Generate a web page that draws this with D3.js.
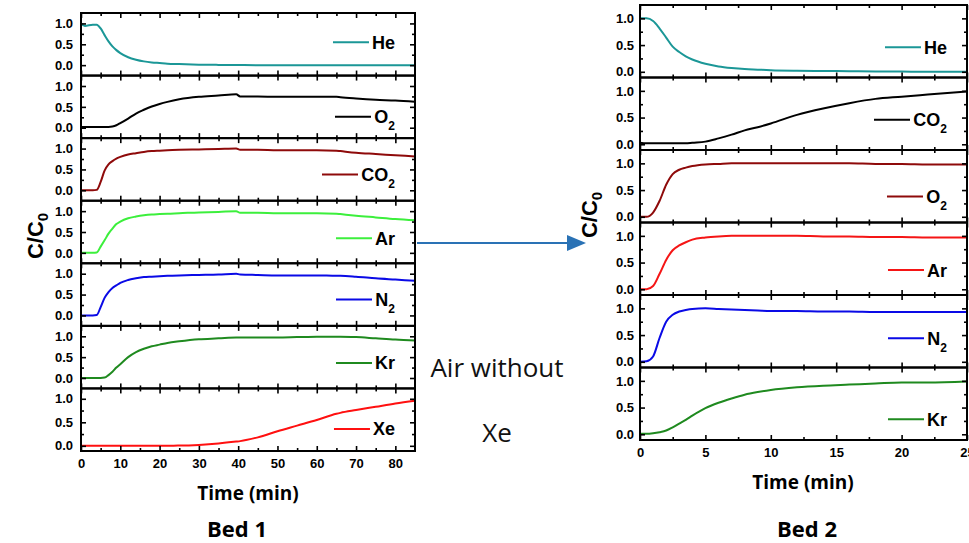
<!DOCTYPE html>
<html>
<head>
<meta charset="utf-8">
<script src="https://cdn.jsdelivr.net/npm/d3@7"></script>
<style>
  body { margin: 0; background: #fff; }
  svg { display: block; }
</style>
</head>
<body>
<script>
// ---- Bed 1 breakthrough curves (C/C0 vs time in min) ----
const bed1Time = [0,1,3,4,5,6,7,8,9,10,12,14,16,18,20,22,25,30,35,39.5,40.5,45,50,55,60,65,66,70,75,80,85];
const bed1Gases = ["He","O2","CO2","Ar","N2","Kr","Xe"];
const bed1He  = [1.0,0.94,0.97,0.97,0.88,0.72,0.57,0.45,0.36,0.29,0.19,0.13,0.09,0.065,0.05,0.035,0.025,0.012,0.006,0.003,0.002,0,0,0,0,0,0,0,0,0,0];
const bed1O2  = [0.02,0.02,0.02,0.02,0.02,0.02,0.02,0.03,0.06,0.11,0.22,0.34,0.43,0.51,0.57,0.62,0.68,0.74,0.77,0.80,0.75,0.75,0.74,0.74,0.74,0.74,0.73,0.70,0.67,0.65,0.62];
const bed1CO2 = [0,0,0,0.01,0.2,0.47,0.62,0.7,0.76,0.8,0.86,0.89,0.92,0.94,0.95,0.96,0.97,0.98,0.99,1.0,0.97,0.97,0.96,0.96,0.96,0.95,0.94,0.9,0.87,0.84,0.81];
const bed1Ar  = [0,0,0,0.01,0.15,0.3,0.46,0.58,0.69,0.75,0.83,0.87,0.9,0.92,0.93,0.94,0.95,0.97,0.98,1.0,0.96,0.96,0.95,0.95,0.95,0.94,0.93,0.89,0.85,0.81,0.78];
const bed1N2  = [0,0,0,0.01,0.2,0.42,0.56,0.66,0.72,0.78,0.85,0.89,0.92,0.93,0.94,0.95,0.96,0.97,0.98,1.0,0.98,0.97,0.96,0.96,0.96,0.95,0.95,0.93,0.89,0.86,0.83];
const bed1Kr  = [0,0,0,0,0,0.01,0.07,0.15,0.25,0.33,0.5,0.62,0.7,0.76,0.8,0.84,0.88,0.93,0.95,0.97,0.97,0.97,0.97,0.98,0.99,0.99,0.99,0.98,0.95,0.92,0.9];
const bed1Xe  = [0,0,0,0,0,0,0,0,0,0,0,0,0,0,0,0.003,0.005,0.02,0.05,0.09,0.1,0.18,0.31,0.43,0.55,0.68,0.7,0.76,0.83,0.9,0.96];
const bed1XTicks = [0,10,20,30,40,50,60,70,80];

// ---- Bed 2 breakthrough curves ----
const bed2Time = [0,0.5,1,1.5,2,2.5,3,3.5,4,5,6,7,8,9,10,12,14,16,18,20,22,25];
const bed2Gases = ["He","CO2","O2","Ar","N2","Kr"];
const bed2He  = [1.0,1.0,0.95,0.81,0.64,0.47,0.37,0.29,0.23,0.15,0.1,0.07,0.05,0.04,0.03,0.02,0.015,0.01,0.005,0.003,0,0];
const bed2CO2 = [0.03,0.02,0.02,0.02,0.02,0.02,0.02,0.02,0.03,0.05,0.11,0.18,0.26,0.32,0.39,0.55,0.67,0.77,0.85,0.89,0.93,0.99];
const bed2O2  = [0,0,0.08,0.3,0.6,0.8,0.88,0.92,0.95,0.98,0.99,1.0,1.0,1.0,1.0,1.0,1.0,1.0,0.99,0.99,0.98,0.98];
const bed2Ar  = [0,0,0.06,0.29,0.55,0.73,0.82,0.88,0.93,0.97,0.99,1.0,1.0,1.0,1.0,1.0,0.99,0.99,0.98,0.98,0.97,0.97];
const bed2N2  = [0,0.01,0.1,0.45,0.75,0.88,0.94,0.97,0.99,1.0,0.99,0.98,0.97,0.96,0.95,0.95,0.94,0.94,0.93,0.93,0.93,0.93];
const bed2Kr  = [0.01,0.01,0.02,0.04,0.07,0.13,0.2,0.27,0.35,0.49,0.59,0.67,0.74,0.79,0.83,0.88,0.91,0.93,0.95,0.97,0.97,0.99];
const bed2XTicks = [0,5,10,15,20,25];

const yTicks = [0, 0.5, 1.0];

const W = 969, H = 543;
const svg = d3.select("body").append("svg").attr("width", W).attr("height", H);
const sansBold = "'Liberation Sans', Arial, sans-serif";
const uiFont = "'Open Sans', 'Noto Sans', sans-serif";

// Writes a gas formula, turning digits into subscripts
function formula(textSel, name, size, subSize, subShift) {
  const parts = name.match(/[A-Za-z]+|\d+/g);
  parts.forEach((p, k) => {
    const isSub = /^\d+$/.test(p);
    const t = textSel.append("tspan").text(p);
    if (isSub) t.attr("font-size", subSize).attr("dy", subShift);
    else if (k > 0 && /^\d+$/.test(parts[k - 1])) t.attr("dy", -subShift).attr("font-size", size);
  });
}

function drawBed(cfg) {
  const n = cfg.gases.length;
  const ph = (cfg.bottom - cfg.top) / n;
  const x = d3.scaleLinear().domain(cfg.xDomain).range([cfg.left, cfg.right]);
  const line = d3.line().curve(d3.curveMonotoneX);

  cfg.gases.forEach((gas, i) => {
    const pTop = cfg.top + i * ph, pBot = pTop + ph;
    const y = d3.scaleLinear().domain(cfg.yDomains[i]).range([pBot, pTop]);
    const g = svg.append("g");
    const last = i === n - 1;

    // curve
    const pts = cfg.values[i].map((v, j) => [x(cfg.time[j]), y(v)]);
    g.append("path").attr("d", line(pts))
      .attr("fill", "none").attr("stroke", cfg.colors[i])
      .attr("stroke-width", 2).attr("stroke-linejoin", "round");

    const styleAxis = a => {
      a.select(".domain").remove();
      a.selectAll("line").attr("stroke", "#000").attr("stroke-width", 1.6);
      a.selectAll("text").attr("font-family", sansBold).attr("font-weight", "bold")
        .attr("font-size", 13).attr("fill", "#000");
    };

    // x ticks, inward on bottom and top
    g.append("g").attr("transform", `translate(0,${pBot})`)
      .call(d3.axisBottom(x).tickValues(cfg.xTicks).tickSize(-5).tickPadding(8)
        .tickFormat(last ? d3.format("d") : () => ""))
      .call(styleAxis);
    g.append("g").attr("transform", `translate(0,${pBot})`)
      .call(d3.axisBottom(x).tickValues(cfg.xMinor).tickSize(-3).tickFormat(() => ""))
      .call(styleAxis);
    g.append("g").attr("transform", `translate(0,${pTop})`)
      .call(d3.axisTop(x).tickValues(cfg.xTicks).tickSize(-5).tickFormat(() => ""))
      .call(styleAxis);
    g.append("g").attr("transform", `translate(0,${pTop})`)
      .call(d3.axisTop(x).tickValues(cfg.xMinor).tickSize(-3).tickFormat(() => ""))
      .call(styleAxis);

    // y ticks, inward on left and right
    g.append("g").attr("transform", `translate(${cfg.left},0)`)
      .call(d3.axisLeft(y).tickValues(yTicks).tickSize(-5).tickPadding(cfg.yPad).tickFormat(d3.format(".1f")))
      .call(styleAxis);
    g.append("g").attr("transform", `translate(${cfg.left},0)`)
      .call(d3.axisLeft(y).tickValues([0.25, 0.75]).tickSize(-3).tickFormat(() => ""))
      .call(styleAxis);
    g.append("g").attr("transform", `translate(${cfg.right},0)`)
      .call(d3.axisRight(y).tickValues(yTicks).tickSize(-5).tickFormat(() => ""))
      .call(styleAxis);
    g.append("g").attr("transform", `translate(${cfg.right},0)`)
      .call(d3.axisRight(y).tickValues([0.25, 0.75]).tickSize(-3).tickFormat(() => ""))
      .call(styleAxis);

    // panel frame
    g.append("rect").attr("x", cfg.left).attr("y", pTop)
      .attr("width", cfg.right - cfg.left).attr("height", ph)
      .attr("fill", "none").attr("stroke", "#000").attr("stroke-width", 2);

    // legend entry
    const ly = y(cfg.legendLevels[i]);
    const txt = g.append("text").attr("x", cfg.right - 20).attr("y", ly + 6.5)
      .attr("text-anchor", "end").attr("font-family", sansBold)
      .attr("font-weight", "bold").attr("font-size", 18).attr("fill", "#000");
    formula(txt, gas, 18, 12, 7);
    const tw = txt.node().getBBox().width;
    const lx1 = cfg.right - 20 - tw - 3;
    g.append("line").attr("x1", lx1 - 36).attr("x2", lx1)
      .attr("y1", ly).attr("y2", ly)
      .attr("stroke", cfg.colors[i]).attr("stroke-width", 2);
  });

  // axis titles
  const yl = svg.append("text")
    .attr("transform", `translate(${cfg.yTitleX},${cfg.yTitleY}) rotate(-90)`)
    .attr("text-anchor", "middle").attr("font-family", sansBold)
    .attr("font-weight", "bold").attr("font-size", 22).attr("fill", "#000");
  yl.append("tspan").text("C/C");
  yl.append("tspan").text("0").attr("font-size", 15).attr("dy", 5);

  svg.append("text").attr("x", cfg.xTitleX).attr("y", cfg.xTitleY)
    .attr("text-anchor", "middle").attr("font-family", uiFont)
    .attr("font-weight", "bold").attr("font-size", 19).attr("fill", "#000")
    .text("Time (min)");

  svg.append("text").attr("x", cfg.bedX).attr("y", 537)
    .attr("text-anchor", "middle").attr("font-family", uiFont)
    .attr("font-weight", "bold").attr("font-size", 22).attr("fill", "#000")
    .text(cfg.bedName);
}

drawBed({
  gases: bed1Gases,
  values: [bed1He, bed1O2, bed1CO2, bed1Ar, bed1N2, bed1Kr, bed1Xe],
  colors: ["#1b9797", "#000000", "#8e0a0a", "#3cef3c", "#0a0ae6", "#1f8a1f", "#ff1010"],
  time: bed1Time,
  xDomain: [0, 85], xTicks: bed1XTicks, xMinor: [5,15,25,35,45,55,65,75],
  left: 81, right: 415, top: 13, bottom: 451,
  yDomains: [[-0.25,1.25],[-0.25,1.25],[-0.25,1.25],[-0.25,1.25],[-0.25,1.25],[-0.25,1.25],[-0.11,1.22]],
  legendLevels: [0.55, 0.26, 0.38, 0.35, 0.38, 0.36, 0.36],
  yPad: 8,
  yTitleX: 43, yTitleY: 236,
  xTitleX: 248, xTitleY: 500,
  bedX: 237, bedName: "Bed 1"
});

drawBed({
  gases: bed2Gases,
  values: [bed2He, bed2CO2, bed2O2, bed2Ar, bed2N2, bed2Kr],
  colors: ["#1b9797", "#000000", "#8e0a0a", "#f51515", "#0a0ae6", "#1f8a1f"],
  time: bed2Time,
  xDomain: [0, 25], xTicks: bed2XTicks, xMinor: [2.5,7.5,12.5,17.5,22.5],
  left: 640, right: 967, top: 5, bottom: 440,
  yDomains: d3.range(6).map(() => [-0.107, 1.25]),
  legendLevels: [0.46, 0.46, 0.38, 0.36, 0.44, 0.28],
  yPad: 6,
  yTitleX: 597, yTitleY: 215,
  xTitleX: 803, xTitleY: 489,
  bedX: 807, bedName: "Bed 2"
});

// transfer arrow between the beds
const arrowColor = "#2a72b5";
svg.append("line").attr("x1", 417).attr("x2", 570).attr("y1", 243).attr("y2", 243)
  .attr("stroke", arrowColor).attr("stroke-width", 2);
svg.append("path").attr("d", "M567,235 L586,243 L567,251 Z").attr("fill", arrowColor);

svg.append("text").attr("x", 497).attr("y", 377).attr("text-anchor", "middle")
  .attr("font-family", uiFont).attr("font-size", 26).attr("fill", "#111")
  .text("Air without");
svg.append("text").attr("x", 497).attr("y", 442).attr("text-anchor", "middle")
  .attr("font-family", uiFont).attr("font-size", 26).attr("fill", "#111")
  .text("Xe");
</script>
</body>
</html>
